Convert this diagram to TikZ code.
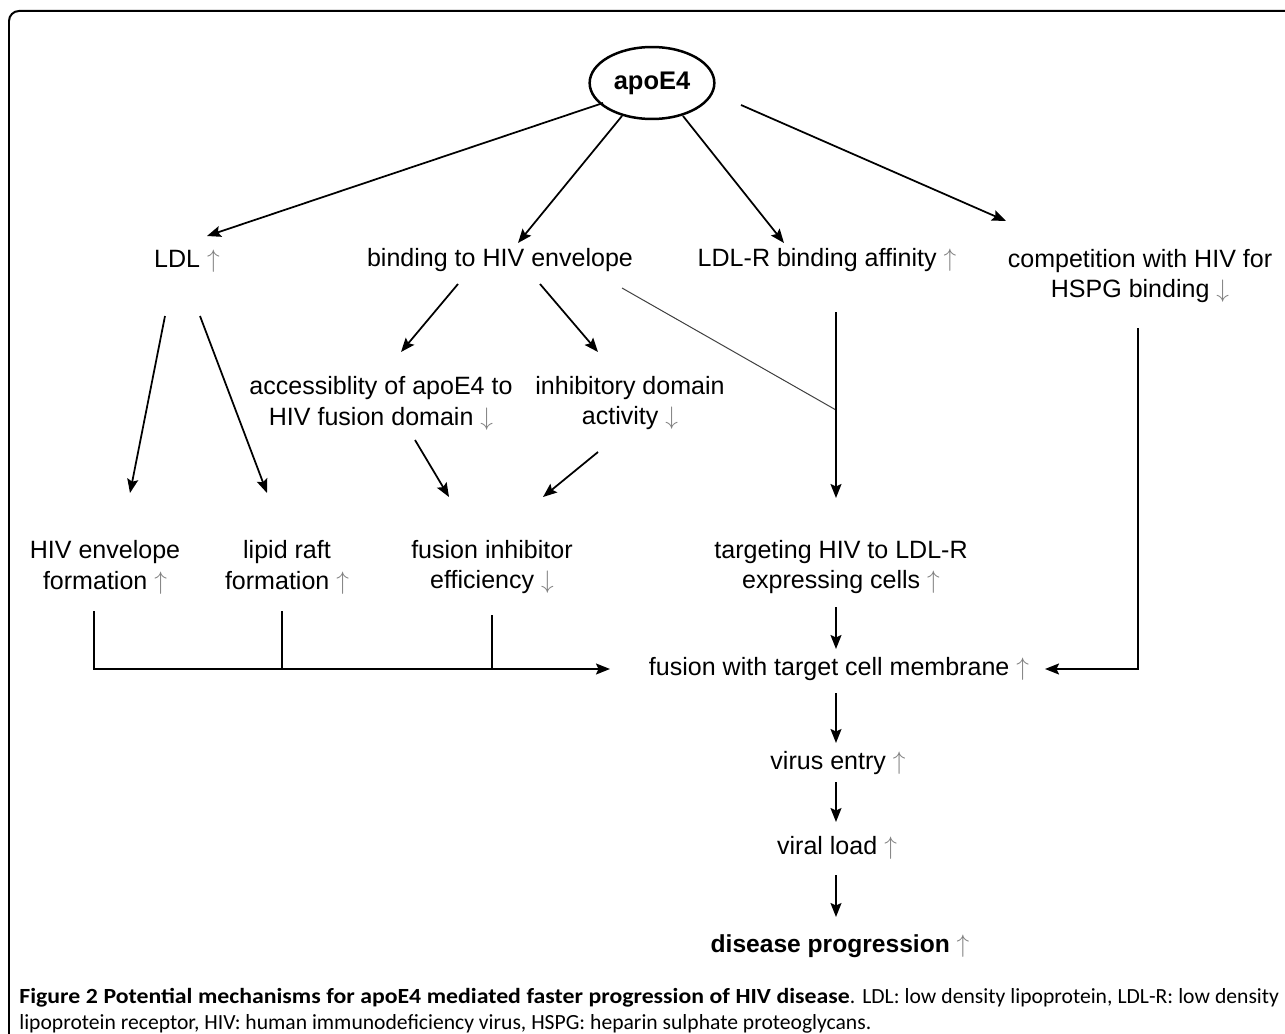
\documentclass[tikz,border=0pt]{standalone}
\usepackage{fontspec}
\setmainfont{Liberation Sans}
\newfontfamily\capfont{Carlito}[BoldFeatures={FakeStretch=1.1}]
\usepackage{tikz}
\usetikzlibrary{arrows.meta, calc, shapes.geometric}

\newcommand{\upar}{\textcolor{gray}{$\uparrow$}}
\newcommand{\dnar}{\textcolor{gray}{$\downarrow$}}

\begin{document}
\begin{tikzpicture}[x=0.02cm, y=-0.02cm,
  txt/.style={font=\fontsize{14.25}{17.6}\selectfont, align=center, inner sep=0pt},
  arr/.style={-{Stealth[length=0.28cm,width=0.22cm,inset=0.05cm]}, line width=0.035cm},
  lin/.style={line width=0.035cm}]
\useasboundingbox (0,0) rectangle (1285,1034);
\draw[line width=0.04cm, rounded corners=0.2cm] (9,1040) -- (9,11) -- (1290,11);

\node[ellipse, draw, line width=0.05cm, minimum width=2.4cm, minimum height=1.44cm,
  font=\bfseries\fontsize{14.5}{17}\selectfont] (apo) at (652,83) {apoE4};
\node[txt] (ldl) at (187,261) {LDL \upar};
\node[txt] (bind) at (500,260) {binding to HIV envelope};
\node[txt] (ldlr) at (827,260) {LDL-R binding affinity \upar};
\node[txt] (comp) at (1140,276) {competition with HIV for\\HSPG binding \dnar};
\node[txt] (acc) at (381,403) {accessiblity of apoE4 to\\HIV fusion domain \dnar};
\node[txt] (inh) at (630,403) {inhibitory domain\\activity \dnar};
\node[txt] (env) at (105,567) {HIV envelope\\formation \upar};
\node[txt] (raft) at (287,567) {lipid raft\\formation \upar};
\node[txt] (finh) at (492,567) {fusion inhibitor\\efficiency \dnar};
\node[txt] (targ) at (841,567) {targeting HIV to LDL-R\\expressing cells \upar};
\node[txt] (fus) at (839,669) {fusion with target cell membrane \upar};
\node[txt] (entry) at (838,763) {virus entry \upar};
\node[txt] (load) at (837,848) {viral load \upar};
\node[txt, font=\bfseries\fontsize{14}{18}\selectfont] (dis) at (840,946) {disease progression \upar};
\coordinate (join) at ($(ldlr)+(9,150)$);

% from apoE4
\draw[arr] ($(apo)+(-49,20)$) -- ($(ldl)+(20,-25)$);
\draw[arr] ($(apo)+(-30,33)$) -- ($(bind)+(18,-17)$);
\draw[arr] ($(apo)+(31,33)$) -- ($(ldlr)+(-43,-17)$);
\draw[arr] ($(apo)+(89,22)$) -- ($(comp)+(-134,-55)$);

% second level
\draw[arr] ($(ldl)+(-22,55)$) -- ($(env)+(25,-74)$);
\draw[arr] ($(ldl)+(13,55)$) -- ($(raft)+(-20,-74)$);
\draw[arr] ($(bind)+(-42,24)$) -- ($(acc)+(20,-51)$);
\draw[arr] ($(bind)+(40,24)$) -- ($(inh)+(-32,-51)$);
\draw[line width=0.02cm, black!75] ($(bind)+(122,28)$) -- (join);
\draw[arr] ($(ldlr)+(9,52)$) -- ($(targ)+(-5,-69)$);
\draw[arr] ($(acc)+(34,37)$) -- ($(finh)+(-43,-70)$);
\draw[arr] ($(inh)+(-32,49)$) -- ($(finh)+(51,-70)$);

% into the fusion step
\draw[arr] ($(env)+(-11,44)$) |- ($(fus)+(-229,0)$);
\draw[lin] ($(raft)+(-5,44)$) -- ($(raft |- fus)+(-5,0)$);
\draw[lin] ($(finh)+(0,48)$) -- (finh |- fus);
\draw[arr] ($(comp)+(-2,52)$) |- ($(fus)+(206,0)$);
\draw[arr] ($(targ)+(-5,40)$) -- ($(fus)+(-3,-20)$);
\draw[arr] ($(fus)+(-3,24)$) -- ($(entry)+(-2,-20)$);
\draw[arr] ($(entry)+(-2,19)$) -- ($(load)+(-1,-26)$);
\draw[arr] ($(load)+(-1,27)$) -- ($(dis)+(-4,-29)$);

\node[anchor=north west, align=left, inner sep=0pt,
  font=\capfont\fontsize{12.3}{15}\selectfont] (cap) at (19,988)
  {\makebox[25.2cm][s]{\textbf{Figure 2 Potential mechanisms for apoE4 mediated faster progression of HIV disease}. LDL: low density lipoprotein, LDL-R: low density}\\
   lipoprotein receptor, HIV: human immunodeficiency virus, HSPG: heparin sulphate proteoglycans.};
\end{tikzpicture}
\end{document}
